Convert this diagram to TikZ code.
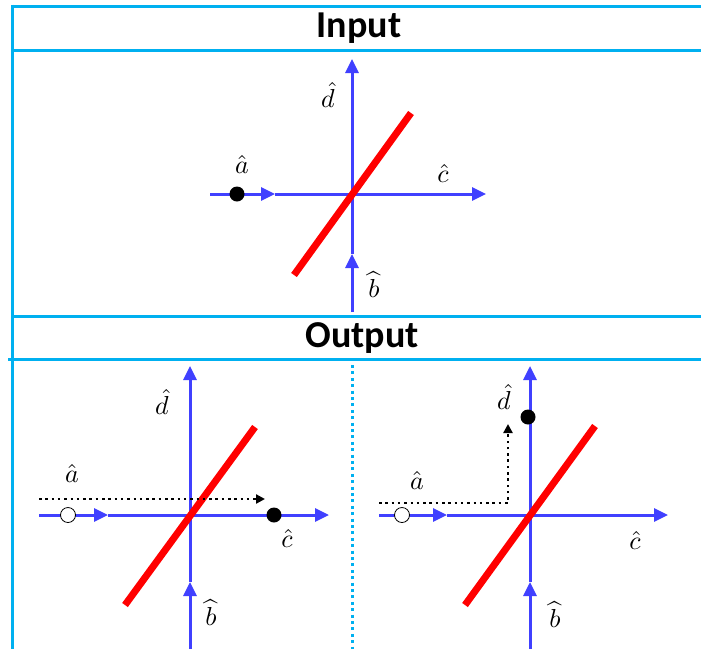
\documentclass[tikz,border=0pt]{standalone}
\usepackage{fontspec}
\newfontfamily\headfont{Carlito}
\usepackage{tikz}
\usetikzlibrary{
    arrows.meta,
    positioning,
    calc
}
\usepackage{xcolor}
\usepackage{amsmath}
\definecolor{framecyan}{RGB}{0,176,240}
\definecolor{axisblue}{RGB}{64,64,255}
\newcommand{\modename}[1]{\scalebox{2.6}{$#1$}}
\tikzstyle{frame} = [
    draw=framecyan,
    line width=3pt
]
\tikzstyle{header} = [
    font=\headfont\bfseries\fontsize{38}{40}\selectfont,
    inner sep=0pt
]
\tikzstyle{axis} = [
    draw=axisblue,
    line width=3pt,
    -{Triangle[length=14pt,width=13pt]}
]
\tikzstyle{mirror} = [
    draw=red,
    line width=7pt
]
\tikzstyle{photon} = [
    circle,
    fill=black,
    minimum size=15pt,
    inner sep=0pt
]
\tikzstyle{vacuum} = [
    circle,
    draw=black,
    fill=white,
    line width=0.8pt,
    minimum size=15pt,
    inner sep=0pt
]
\tikzstyle{trajectory} = [
    draw=black,
    line width=2.5pt,
    dash pattern=on 2.5pt off 3.8pt,
    -{Triangle[length=9pt,width=9pt]}
]
\tikzstyle{modelabel} = [
    inner sep=0pt
]

\begin{document}
\begin{tikzpicture}[x=1pt, y=-1pt]
        \useasboundingbox (0,0) rectangle (701,649);

        % Frame
        \draw[frame] (12,6) -- (701,6);
        \draw[frame] (12,50) -- (701,50);
        \draw[frame] (12,316) -- (701,316);
        \draw[frame] (8,359) -- (701,359);
        \draw[frame] (12,4.5) -- (12,649);
        \draw[frame, dash pattern=on 3pt off 3.4pt] (352,365) -- (352,649);

        \node[header] (input) at (359,28) {Input};
        \node[header] (output) at (362,338) {Output};

        % Input panel
        \coordinate (inW) at (210,194);
        \coordinate (inWm) at (275,194);
        \coordinate (inE) at (486,194);
        \coordinate (inS) at (352,312);
        \coordinate (inSm) at (352,254);
        \coordinate (inN) at (352,59);
        \draw[axis] (inW) -- (inWm);
        \draw[axis] (inWm) -- (inE);
        \draw[axis] (inS) -- (inSm);
        \draw[axis] (inSm) -- (inN);
        \draw[mirror] (294,275) -- (411,113);
        \node[photon] (inA) at (237,194) {};
        \node[modelabel] (inLa) at (242,164) {\modename{\hat{a}}};
        \node[modelabel] (inLc) at (443,173) {\modename{\hat{c}}};
        \node[modelabel] (inLd) at (328,95) {\modename{\hat{d}}};
        \node[modelabel] (inLb) at (374,285) {\modename{\widehat{b}}};

        % Output, transmitted
        \coordinate (tW) at (39,515);
        \coordinate (tWm) at (108,515);
        \coordinate (tE) at (329,515);
        \coordinate (tS) at (190,649);
        \coordinate (tSm) at (190,582);
        \coordinate (tN) at (190,366);
        \draw[axis] (tW) -- (tWm);
        \draw[axis] (tWm) -- (tE);
        \draw[axis] (tS) -- (tSm);
        \draw[axis] (tSm) -- (tN);
        \draw[mirror] (125,605) -- (255,427);
        \node[vacuum] (tA) at (68,515) {};
        \node[photon] (tC) at (274,515) {};
        \coordinate (tGo) at (39,499);
        \coordinate (tTo) at (265,499);
        \draw[trajectory] (tGo) -- (tTo);
        \node[modelabel] (tLa) at (72,473) {\modename{\hat{a}}};
        \node[modelabel] (tLd) at (162,402) {\modename{\hat{d}}};
        \node[modelabel] (tLc) at (287,538) {\modename{\hat{c}}};
        \node[modelabel] (tLb) at (211,613) {\modename{\widehat{b}}};

        % Output, reflected
        \coordinate (rW) at (379,515);
        \coordinate (rWm) at (447,515);
        \coordinate (rE) at (668,515);
        \coordinate (rS) at (530,649);
        \coordinate (rSm) at (530,582);
        \coordinate (rN) at (530,366);
        \draw[axis] (rW) -- (rWm);
        \draw[axis] (rWm) -- (rE);
        \draw[axis] (rS) -- (rSm);
        \draw[axis] (rSm) -- (rN);
        \draw[mirror] (465,605) -- (595,426);
        \node[vacuum] (rA) at (402,515) {};
        \node[photon] (rD) at (528,417) {};
        \coordinate (rGo) at (379,503);
        \coordinate (rBend) at (508,503);
        \coordinate (rTo) at (508,424);
        \draw[trajectory] (rGo) -- (rBend) -- (rTo);
        \node[modelabel] (rLd) at (504,397) {\modename{\hat{d}}};
        \node[modelabel] (rLa) at (417,480) {\modename{\hat{a}}};
        \node[modelabel] (rLc) at (635,540) {\modename{\hat{c}}};
        \node[modelabel] (rLb) at (555,615) {\modename{\widehat{b}}};
    \end{tikzpicture}
\end{document}
